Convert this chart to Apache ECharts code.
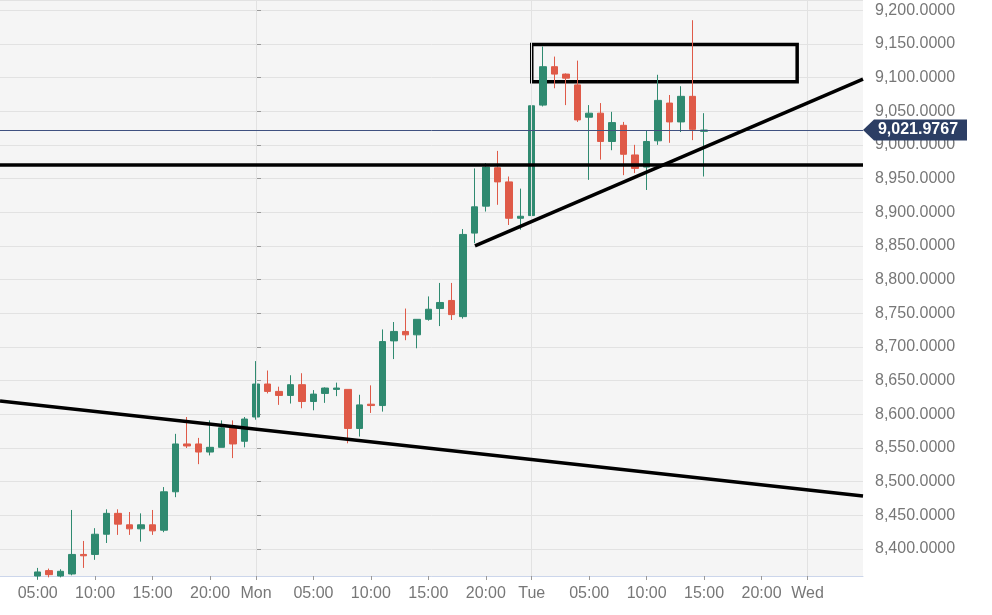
<!DOCTYPE html>
<html><head><meta charset="utf-8">
<script src="https://cdn.jsdelivr.net/npm/echarts@6/dist/echarts.min.js"></script>
<style>html,body{margin:0;padding:0;background:#fff}#c{width:992px;height:615px}</style>
</head><body><div id="c"></div>
<script>
// hour offset from Monday 00:00
const hours  = [-19,-18,-17,-16,-15,-14,-13,-12,-11,-10,-9,-8,-7,-6,-5,-4,-3,-2,-1,0,1,2,3,4,5,6,7,8,9,10,11,12,13,14,15,16,17,18,19,20,21,22,23,24,25,26,27,28,29,30,31,32,33,34,35,36,37,38,39];
const opens  = [8360,8368,8360,8363,8392,8392,8422,8453,8436,8430,8436,8428,8485,8556,8556,8544,8551,8580,8560,8596,8645,8634,8628,8644,8619,8631,8637,8637,8579,8615,8613,8709,8723,8718,8741,8757,8769,8745,8869,8909,8966,8945,8891,8895,9059,9116,9105,9089,9041,9047,9005,9029,8985,8967,9006,9062,9034,9072,9020];
const closes = [8366,8362,8367,8392,8390,8422,8453,8437,8430,8436,8427,8485,8556,8553,8544,8551,8580,8556,8593,8645,8634,8628,8644,8619,8630,8639,8639,8579,8614,8613,8708,8723,8718,8741,8756,8766,8748,8867,8908,8967,8945,8891,8894,9058,9116,9105,9099,9037,9047,9005,9033,8986,8965,9005,9066,9034,9072,9023,9022];
const lows   = [8355,8358,8358,8361,8372,8384,8409,8421,8421,8411,8421,8425,8477,8550,8526,8539,8551,8535,8551,8592,8631,8614,8616,8609,8606,8617,8627,8557,8567,8602,8604,8682,8710,8698,8739,8731,8740,8742,8854,8901,8911,8881,8874,8886,9057,9084,9059,9034,8948,8978,8992,8955,8958,8933,9000,9003,9019,9007,8953];
const highs  = [8372,8371,8370,8458,8412,8431,8459,8459,8455,8453,8458,8492,8571,8596,8565,8591,8591,8591,8596,8679,8665,8641,8658,8661,8636,8640,8647,8637,8629,8643,8726,8737,8757,8741,8775,8795,8795,8875,8965,8973,8991,8953,8935,9074,9146,9131,9106,9125,9059,9062,9049,9034,9000,9022,9104,9074,9087,9185,9047];

const xTickHours  = [-19,-14,-9,-4,0,5,10,15,20,24,29,34,39,44,48];
const xTickLabels = ['05:00','10:00','15:00','20:00','Mon','05:00','10:00','15:00','20:00','Tue','05:00','10:00','15:00','20:00','Wed'];
const dayHours = [0,24,48];
const xRange = [-22.28, 52.83];
const yRange = [8360, 9215];

const lastPrice = 9021.9767;
const levelPrice = 8970;
const supportLine = [[19.06, 8850], [52.83, 9097.6]];
const resistLine  = [[-22.28, 8619.6], [52.83, 8478.6]];
const boxZone = [[24, 9149], [47.1, 9093.6]];

const candleData = hours.map((h, i) => [h, opens[i], closes[i], lows[i], highs[i]]);
const fmtPrice = v => Number(v).toLocaleString('en-US', {minimumFractionDigits: 4, maximumFractionDigits: 4});
const FONT = 'Liberation Sans, Arial, sans-serif';

const chart = echarts.init(document.getElementById('c'), null, {renderer: 'canvas'});
chart.setOption({
  animation: false,
  backgroundColor: '#ffffff',
  grid: {left: 0, right: 129, top: 0, bottom: 39, show: true, backgroundColor: '#f5f5f5', borderWidth: 0},
  xAxis: {
    type: 'value', min: xRange[0], max: xRange[1],
    axisLine: {show: true, onZero: false, lineStyle: {color: '#ccd6eb', width: 1}},
    axisTick: {show: true, customValues: xTickHours, length: 4, lineStyle: {color: '#999'}},
    axisLabel: {customValues: xTickHours, formatter: v => xTickLabels[xTickHours.indexOf(v)],
      color: '#777', fontSize: 16, fontFamily: FONT, margin: 10},
    splitLine: {show: false}
  },
  yAxis: {
    type: 'value', position: 'right', min: yRange[0], max: yRange[1], splitNumber: 17,
    axisLine: {show: true, lineStyle: {color: '#ccd6eb', width: 1}},
    axisTick: {show: true, length: 5, lineStyle: {color: '#999'}},
    axisLabel: {color: '#777', fontSize: 16, fontFamily: FONT, margin: 12,
      showMinLabel: false, showMaxLabel: false, formatter: fmtPrice},
    splitLine: {show: true, lineStyle: {color: '#e2e2e2', width: 1}}
  },
  series: [
    {
      type: 'line', data: [], z: 1, silent: true,
      markLine: {
        silent: true, symbol: ['none', 'none'], label: {show: false}, animation: false,
        lineStyle: {color: '#e2e2e2', width: 1, type: 'solid'},
        data: dayHours.map(h => ({xAxis: h}))
      }
    },
    {
      type: 'candlestick', z: 2, data: candleData, barWidth: 7,
      itemStyle: {color: '#2f8a70', color0: '#df5a48', borderColor: '#2f8a70', borderColor0: '#df5a48', borderWidth: 1}
    },
    {
      type: 'line', data: [], z: 3, silent: true, clip: false,
      markLine: {
        silent: true, symbol: ['none', 'none'], label: {show: false}, animation: false,
        lineStyle: {color: '#000', width: 3.5, type: 'solid'},
        data: [
          {yAxis: lastPrice, lineStyle: {color: '#3f5180', width: 1}},
          {yAxis: levelPrice},
          [{coord: supportLine[0]}, {coord: supportLine[1]}],
          [{coord: resistLine[0]}, {coord: resistLine[1]}]
        ]
      },
      markArea: {
        silent: true, animation: false,
        itemStyle: {color: 'rgba(0,0,0,0)', borderColor: '#000', borderWidth: 3.5},
        data: [[{coord: boxZone[0]}, {coord: boxZone[1]}]]
      },
      markPoint: {
        silent: true, animation: false,
        symbol: 'path://M0,10.5L11,0L104,0L104,21L11,21Z',
        symbolSize: [104, 21], symbolOffset: [52, 0],
        itemStyle: {color: '#2c3e64'},
        label: {show: true, position: 'inside', offset: [3, 0], color: '#fff', fontWeight: 'bold',
          fontSize: 16, fontFamily: FONT, formatter: () => fmtPrice(lastPrice)},
        data: [{coord: [xRange[1], lastPrice]}]
      }
    }
  ]
});
</script>
</body></html>
